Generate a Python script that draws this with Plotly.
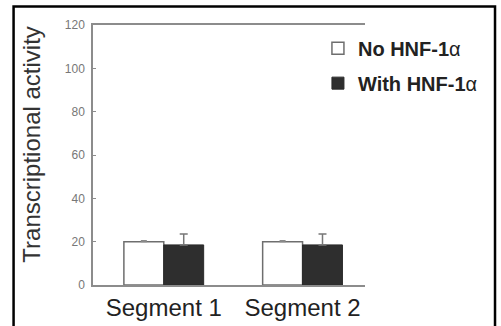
import plotly.graph_objects as go

# Reporter assay: transcriptional activity of two promoter segments
segments = ["Segment 1", "Segment 2"]
no_hnf = [20, 20]
no_hnf_err = [0.5, 0.5]
with_hnf = [18.5, 18.5]
with_hnf_err = [5, 5]
y_ticks = [0, 20, 40, 60, 80, 100, 120]

x_pos = list(range(len(segments)))
font_family = "Liberation Sans, Arial, sans-serif"

fig = go.Figure()
fig.add_trace(go.Bar(
    x=x_pos, y=no_hnf, name="<b>No HNF-1</b>α", legendgroup="a",
    marker=dict(color="white", line=dict(color="#6e6e6e", width=1.5)),
    error_y=dict(type="data", array=no_hnf_err, arrayminus=[0, 0], symmetric=False,
                 color="#8a8a8a", thickness=1.2, width=3),
))
fig.add_trace(go.Bar(
    x=x_pos, y=with_hnf, name="<b>With HNF-1</b>α", legendgroup="b",
    marker=dict(color="#2e2e2e", line=dict(color="#2a2a2a", width=1)),
    error_y=dict(type="data", array=with_hnf_err, arrayminus=[0, 0], symmetric=False,
                 color="#777777", thickness=1.5, width=4),
))

axis_grey = "#8c8c8c"
fig.update_layout(
    width=501, height=326,
    margin=dict(l=93, r=136, t=25, b=41),
    paper_bgcolor="white", plot_bgcolor="white",
    barmode="group", bargap=0.425, bargroupgap=0,
    font=dict(family=font_family),
    showlegend=True,
    legend=dict(x=0.827, y=0.986, xanchor="left", yanchor="top",
                font=dict(size=20, color="#222222", family=font_family),
                bgcolor="rgba(0,0,0,0)", tracegroupgap=6, traceorder="grouped"),
    xaxis=dict(range=[-0.51, 1.45], tickvals=x_pos, ticktext=segments, ticks="",
               showline=True, linecolor=axis_grey, linewidth=1.5, mirror=True,
               showgrid=False, zeroline=False, ticklabelstandoff=0, automargin=False,
               tickfont=dict(size=24, color="#222222")),
    xaxis2=dict(overlaying="x", anchor="y", side="bottom", range=[-0.51, 1.45],
                tickvals=[0.5], ticks="inside", ticklen=4, tickcolor=axis_grey, tickwidth=1,
                showticklabels=False, showline=False, showgrid=False, zeroline=False,
                automargin=False),
    yaxis=dict(range=[0, 120], tickvals=y_ticks, ticks="inside", ticklen=3,
               tickcolor=axis_grey, tickwidth=1,
               showline=True, linecolor=axis_grey, linewidth=1.5,
               showgrid=False, zeroline=False, ticklabelstandoff=4, automargin=False,
               tickfont=dict(size=12, color="#777777")),
    annotations=[dict(text="Transcriptional activity", textangle=-90,
                      xref="paper", yref="paper", x=-0.224, y=0.54,
                      xanchor="center", yanchor="middle",
                      showarrow=False, font=dict(size=24, color="#333333"))],
    shapes=[dict(type="rect", xref="paper", yref="paper",
                 x0=-0.292, x1=1.478, y0=-0.25, y1=1.071,
                 line=dict(color="black", width=2.5), fillcolor="rgba(0,0,0,0)",
                 layer="above")],
)

fig.write_html("out.html")
